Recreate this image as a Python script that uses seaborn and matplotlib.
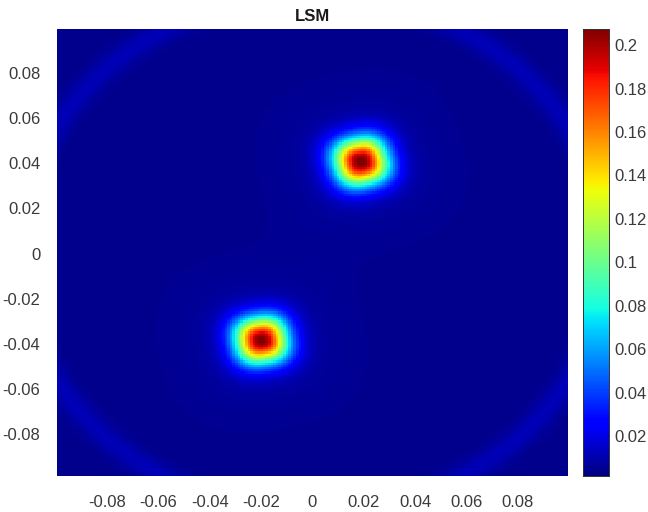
import numpy as np
import matplotlib
matplotlib.use("Agg")
import matplotlib.pyplot as plt
import seaborn as sns

# ---- data ----
title = "LSM"
x_range = [-0.0995, 0.0995]
y_range = [-0.0985, 0.0995]
blob_x = [0.0190, -0.0200]          # blob centres (x)
blob_y = [0.0410, -0.0385]          # blob centres (y)
blob_peak = [0.207, 0.205]          # peak values
blob_width = [0.0102, 0.0100]       # characteristic half width
blob_angle = [15.0, 10.0]           # slight rotation of the rounded blobs (deg)
halo_level = [0.005, 0.005]         # faint halo around blobs
background_level = 0.0042
ring_radius = 0.1150
ring_level = 0.0075
x_ticks = [-0.08, -0.06, -0.04, -0.02, 0, 0.02, 0.04, 0.06, 0.08]
x_tick_labels = ["-0.08", "-0.06", "-0.04", "-0.02", "0", "0.02", "0.04", "0.06", "0.08"]
y_ticks = [0.08, 0.06, 0.04, 0.02, 0, -0.02, -0.04, -0.06, -0.08]
y_tick_labels = ["0.08", "0.06", "0.04", "0.02", "0", "-0.02", "-0.04", "-0.06", "-0.08"]
cbar_ticks = [0.02, 0.04, 0.06, 0.08, 0.1, 0.12, 0.14, 0.16, 0.18, 0.2]
cbar_tick_labels = ["0.02", "0.04", "0.06", "0.08", "0.1", "0.12", "0.14", "0.16", "0.18", "0.2"]
v_min, v_max = 0.0016, 0.2074

# ---- field on a grid ----
N = 201
xs = np.linspace(x_range[0], x_range[1], N)
ys = np.linspace(y_range[1], y_range[0], N)  # top row first
X, Y = np.meshgrid(xs, ys)
R = np.hypot(X, Y)
Z = background_level + ring_level * np.exp(-((R - ring_radius) / 0.005) ** 2)
for bx, by, bp, bw, ba, hl in zip(blob_x, blob_y, blob_peak, blob_width, blob_angle, halo_level):
    t = np.deg2rad(ba)
    dx = (X - bx) * np.cos(t) + (Y - by) * np.sin(t)
    dy = -(X - bx) * np.sin(t) + (Y - by) * np.cos(t)
    q = 2.5
    r = (np.abs(dx) ** q + np.abs(dy) ** q) ** (1.0 / q)
    Z = Z + (bp - background_level) * np.exp(-(r / bw) ** 2.0)
    Z = Z + hl * np.exp(-(r / 0.028) ** 2)

sns.set_style("white")
plt.rcParams["font.family"] = ["Liberation Sans", "DejaVu Sans"]

fig = plt.figure(figsize=(6.48, 5.12), dpi=100)
ax = fig.add_axes([57 / 648, 1 - 476 / 512, 511 / 648, 447 / 512])
cax = fig.add_axes([583 / 648, 1 - 476 / 512, 26 / 648, 447 / 512])

sns.heatmap(Z, cmap="jet", vmin=v_min, vmax=v_max, ax=ax, cbar_ax=cax,
            xticklabels=False, yticklabels=False, rasterized=True)

def xpos(v):
    return (v - x_range[0]) / (x_range[1] - x_range[0]) * N

def ypos(v):
    return (y_range[1] - v) / (y_range[1] - y_range[0]) * N

tick_color = "#3a3a3a"
ax.set_xticks([xpos(v) for v in x_ticks])
ax.set_xticklabels(x_tick_labels, fontsize=12, color=tick_color)
ax.set_yticks([ypos(v) for v in y_ticks])
ax.set_yticklabels(y_tick_labels, fontsize=12, color=tick_color, rotation=0)
ax.tick_params(axis="both", direction="in", length=0, pad=12)
ax.tick_params(axis="x", pad=14)
ax.set_title(title, fontsize=12, fontweight="bold", color="#1a1a1a", pad=6)

cax.set_yticks(cbar_ticks)
cax.set_yticklabels(cbar_tick_labels, fontsize=12, color=tick_color)
cax.tick_params(axis="y", direction="in", length=3, width=0.6, pad=4, color="#333333")
for s in cax.spines.values():
    s.set_visible(True)
    s.set_linewidth(0.6)
    s.set_color("#333333")

fig.savefig("out.png", dpi=100)
